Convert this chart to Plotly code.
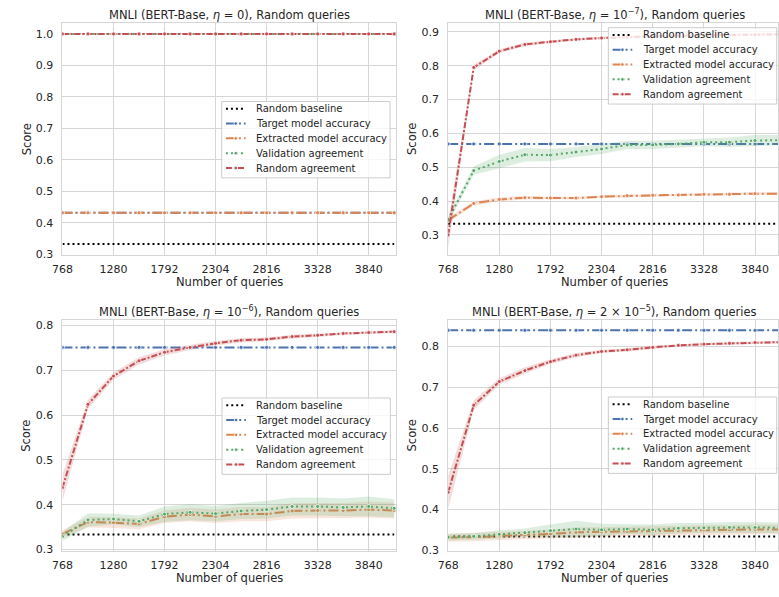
import plotly.graph_objects as go

W, H = 779, 597

# ---------------- data ----------------
QUERIES = [768, 1024, 1280, 1536, 1792, 2048, 2304, 2560, 2816, 3072, 3328, 3584, 3840, 4096]
XTICKS = [768, 1280, 1792, 2304, 2816, 3328, 3840]

SERIES_NAMES = ["Random baseline", "Target model accuracy", "Extracted model accuracy",
                "Validation agreement", "Random agreement"]
COLORS = ["#000000", "#4C72B0", "#DD8452", "#55A868", "#C44E52"]
BAND_COLORS = ["rgba(0,0,0,0.2)", "rgba(76,114,176,0.2)", "rgba(221,132,82,0.2)",
               "rgba(85,168,104,0.2)", "rgba(196,78,82,0.2)"]
DASHES = ["2px,3px", "10px,3px,2px,3px", "10px,3px,2px,3px", "2px,3px", "6px,2px,2px,2px"]

TITLES = [
    "MNLI (BERT-Base, <i>η</i> = 0), Random queries",
    "MNLI (BERT-Base, <i>η</i> = 10<sup>−7</sup>), Random queries",
    "MNLI (BERT-Base, <i>η</i> = 10<sup>−6</sup>), Random queries",
    "MNLI (BERT-Base, <i>η</i> = 2 × 10<sup>−5</sup>), Random queries",
]

RANDOM_BASELINE = 0.3333

# Panel 1: eta = 0
P1_TARGET = 0.432
P1_EXTRACTED = [0.432, 0.432, 0.432, 0.432, 0.432, 0.432, 0.432, 0.432, 0.432, 0.432, 0.432, 0.432, 0.432, 0.432]
P1_VALIDATION = [1.0, 1.0, 1.0, 1.0, 1.0, 1.0, 1.0, 1.0, 1.0, 1.0, 1.0, 1.0, 1.0, 1.0]
P1_RANDOM = [1.0, 1.0, 1.0, 1.0, 1.0, 1.0, 1.0, 1.0, 1.0, 1.0, 1.0, 1.0, 1.0, 1.0]
P1_EXTRACTED_ERR = [0, 0, 0, 0, 0, 0, 0, 0, 0, 0, 0, 0, 0, 0]
P1_VALIDATION_ERR = [0, 0, 0, 0, 0, 0, 0, 0, 0, 0, 0, 0, 0, 0]
P1_RANDOM_ERR = [0, 0, 0, 0, 0, 0, 0, 0, 0, 0, 0, 0, 0, 0]

# Panel 2: eta = 1e-7
P2_TARGET = 0.569
P2_EXTRACTED = [0.344, 0.393, 0.405, 0.410, 0.409, 0.409, 0.413, 0.416, 0.417, 0.418, 0.420, 0.420, 0.422, 0.422]
P2_VALIDATION = [0.345, 0.490, 0.517, 0.537, 0.536, 0.545, 0.554, 0.566, 0.566, 0.569, 0.574, 0.574, 0.579, 0.580]
P2_RANDOM = [0.300, 0.795, 0.843, 0.863, 0.871, 0.878, 0.882, 0.885, 0.887, 0.889, 0.890, 0.891, 0.892, 0.893]
P2_EXTRACTED_ERR = [0.008, 0.006, 0.006, 0.005, 0.004, 0.004, 0.004, 0.004, 0.004, 0.004, 0.004, 0.004, 0.004, 0.005]
P2_VALIDATION_ERR = [0.010, 0.012, 0.020, 0.020, 0.018, 0.015, 0.015, 0.012, 0.012, 0.012, 0.012, 0.014, 0.016, 0.015]
P2_RANDOM_ERR = [0.040, 0.008, 0.006, 0.005, 0.004, 0.004, 0.004, 0.004, 0.004, 0.004, 0.004, 0.004, 0.004, 0.004]

# Panel 3: eta = 1e-6
P3_TARGET = 0.751
P3_EXTRACTED = [0.335, 0.361, 0.360, 0.357, 0.373, 0.378, 0.374, 0.379, 0.379, 0.386, 0.387, 0.387, 0.389, 0.387]
P3_VALIDATION = [0.329, 0.366, 0.368, 0.363, 0.379, 0.383, 0.380, 0.386, 0.389, 0.396, 0.396, 0.394, 0.396, 0.392]
P3_RANDOM = [0.438, 0.624, 0.687, 0.721, 0.740, 0.751, 0.760, 0.767, 0.769, 0.775, 0.778, 0.782, 0.784, 0.786]
P3_EXTRACTED_ERR = [0.008, 0.012, 0.012, 0.012, 0.014, 0.015, 0.015, 0.016, 0.016, 0.017, 0.017, 0.017, 0.018, 0.018]
P3_VALIDATION_ERR = [0.010, 0.015, 0.012, 0.013, 0.017, 0.018, 0.017, 0.018, 0.020, 0.020, 0.020, 0.020, 0.022, 0.020]
P3_RANDOM_ERR = [0.030, 0.010, 0.008, 0.008, 0.007, 0.006, 0.005, 0.005, 0.004, 0.004, 0.004, 0.003, 0.003, 0.003]

# Panel 4: eta = 2e-5
P4_TARGET = 0.840
P4_EXTRACTED = [0.331, 0.332, 0.335, 0.337, 0.340, 0.344, 0.345, 0.346, 0.347, 0.348, 0.350, 0.350, 0.351, 0.351]
P4_VALIDATION = [0.332, 0.334, 0.339, 0.343, 0.348, 0.352, 0.350, 0.352, 0.350, 0.354, 0.355, 0.356, 0.356, 0.355]
P4_RANDOM = [0.442, 0.656, 0.714, 0.741, 0.763, 0.779, 0.788, 0.792, 0.798, 0.803, 0.806, 0.808, 0.810, 0.811]
P4_EXTRACTED_ERR = [0.010, 0.010, 0.010, 0.010, 0.010, 0.012, 0.012, 0.012, 0.012, 0.012, 0.012, 0.012, 0.012, 0.012]
P4_VALIDATION_ERR = [0.008, 0.008, 0.010, 0.010, 0.015, 0.020, 0.015, 0.012, 0.013, 0.013, 0.012, 0.013, 0.013, 0.013]
P4_RANDOM_ERR = [0.040, 0.012, 0.008, 0.008, 0.006, 0.005, 0.004, 0.004, 0.004, 0.003, 0.003, 0.003, 0.003, 0.003]

Y_RANGES = [[0.299, 1.0345], [0.2416, 0.9263], [0.2963, 0.8132], [0.2976, 0.8665]]
X_RANGES = [[768, 4111], [768, 4070], [768, 4111], [768, 4070]]

PANELS = [
    (P1_TARGET, P1_EXTRACTED, P1_VALIDATION, P1_RANDOM, P1_EXTRACTED_ERR, P1_VALIDATION_ERR, P1_RANDOM_ERR),
    (P2_TARGET, P2_EXTRACTED, P2_VALIDATION, P2_RANDOM, P2_EXTRACTED_ERR, P2_VALIDATION_ERR, P2_RANDOM_ERR),
    (P3_TARGET, P3_EXTRACTED, P3_VALIDATION, P3_RANDOM, P3_EXTRACTED_ERR, P3_VALIDATION_ERR, P3_RANDOM_ERR),
    (P4_TARGET, P4_EXTRACTED, P4_VALIDATION, P4_RANDOM, P4_EXTRACTED_ERR, P4_VALIDATION_ERR, P4_RANDOM_ERR),
]

# ---------------- layout geometry (pixels) ----------------
COL_X = [(52.3, 390.7), (444.0, 779.0)]
ROW_Y = [(23.3, 257.7), (323.3, 557.7)]
PLOT_CENTER_X = [221.5, 613.2]
LEGEND_BOX = [(214.0, 102.7), (606.7, 28.0), (214.3, 402.7), (606.7, 401.7)]
LEGEND_W, LEGEND_H = 171.0, 77.3


def px(x):
    return x / W


def py(y):
    return 1 - y / H


TEXT_COLOR = "#262626"
GRID = "#d6d6d6"
FONT = "DejaVu Sans"

fig = go.Figure()
shapes = []
annotations = []

for i, (target, extr, val, rnd, extr_e, val_e, rnd_e) in enumerate(PANELS):
    r, c = divmod(i, 2)
    xa = "x" if i == 0 else f"x{i + 1}"
    ya = "y" if i == 0 else f"y{i + 1}"
    n = len(QUERIES)
    series = [
        ([RANDOM_BASELINE] * n, None, False),
        ([target] * n, None, True),
        (extr, extr_e, True),
        (val, val_e, True),
        (rnd, rnd_e, True),
    ]
    for k, (vals, err, mk) in enumerate(series):
        if err is not None and any(e > 0 for e in err):
            lo = [v - e for v, e in zip(vals, err)]
            hi = [v + e for v, e in zip(vals, err)]
            fig.add_trace(go.Scatter(x=QUERIES, y=lo, xaxis=xa, yaxis=ya, mode="lines",
                                     line=dict(width=0), showlegend=False, hoverinfo="skip"))
            fig.add_trace(go.Scatter(x=QUERIES, y=hi, xaxis=xa, yaxis=ya, mode="lines",
                                     line=dict(width=0), fill="tonexty",
                                     fillcolor=BAND_COLORS[k], showlegend=False, hoverinfo="skip"))
        fig.add_trace(go.Scatter(
            x=QUERIES, y=vals, xaxis=xa, yaxis=ya, name=SERIES_NAMES[k],
            mode="lines+markers" if mk else "lines",
            line=dict(color=COLORS[k], width=2, dash=DASHES[k]),
            marker=dict(size=4, color=COLORS[k], line=dict(color="white", width=0.8)),
            showlegend=False,
        ))

    x0, x1 = COL_X[c]
    y0, y1 = ROW_Y[r]
    axis_common = dict(showgrid=True, gridcolor=GRID, gridwidth=1, showline=True,
                       linecolor=GRID, linewidth=1, mirror=True, ticks="",
                       zeroline=False, tickfont=dict(family=FONT, size=11, color=TEXT_COLOR))
    fig.update_layout(**{
        ("xaxis" if i == 0 else f"xaxis{i + 1}"): dict(
            domain=[px(x0), px(x1)], anchor=ya, range=X_RANGES[i],
            tickmode="array", tickvals=XTICKS, ticklabelstandoff=4, **axis_common),
        ("yaxis" if i == 0 else f"yaxis{i + 1}"): dict(
            domain=[py(y1), py(y0)], anchor=xa, range=Y_RANGES[i],
            dtick=0.1, tickformat=".1f", ticklabelstandoff=6, **axis_common),
    })

    cx = PLOT_CENTER_X[c]
    # title
    annotations.append(dict(text=TITLES[i], x=px(cx), y=py(y0 - 8.5), xref="paper", yref="paper",
                            xanchor="center", yanchor="middle", showarrow=False,
                            font=dict(family=FONT, size=11.5, color=TEXT_COLOR)))
    # x title
    annotations.append(dict(text="Number of queries", x=px(cx), y=py(y1 + 27.5), xref="paper", yref="paper",
                            xanchor="center", yanchor="middle", showarrow=False,
                            font=dict(family=FONT, size=11.5, color=TEXT_COLOR)))
    # y title
    annotations.append(dict(text="Score", x=px(x0 - 36.6), y=py((y0 + y1) / 2), xref="paper", yref="paper",
                            xanchor="center", yanchor="middle", showarrow=False, textangle=-90,
                            font=dict(family=FONT, size=11.5, color=TEXT_COLOR)))

    # legend box
    bx, by = LEGEND_BOX[i]
    shapes.append(dict(type="rect", xref="paper", yref="paper", layer="above",
                       x0=px(bx), x1=px(bx + LEGEND_W), y0=py(by), y1=py(by + LEGEND_H),
                       fillcolor="rgba(255,255,255,0.8)", line=dict(color="#cccccc", width=1)))
    for k, name in enumerate(SERIES_NAMES):
        ey = by + 7.3 + 15 * k
        shapes.append(dict(type="line", xref="paper", yref="paper", layer="above",
                           x0=px(bx + 4.3), x1=px(bx + 24.3), y0=py(ey), y1=py(ey),
                           line=dict(color=COLORS[k], width=2, dash=DASHES[k])))
        if k > 0:
            mx = bx + 14.3
            shapes.append(dict(type="circle", xref="paper", yref="paper", layer="above",
                               x0=px(mx - 1.8), x1=px(mx + 1.8), y0=py(ey + 1.8), y1=py(ey - 1.8),
                               fillcolor=COLORS[k], line=dict(color="white", width=0.8)))
        annotations.append(dict(text=name, x=px(bx + 33), y=py(ey), xref="paper", yref="paper",
                                xanchor="left", yanchor="middle", showarrow=False,
                                font=dict(family=FONT, size=10, color=TEXT_COLOR)))

fig.update_layout(
    width=W, height=H,
    margin=dict(l=0, r=0, t=0, b=0),
    paper_bgcolor="white", plot_bgcolor="white",
    showlegend=False,
    shapes=shapes, annotations=annotations,
    font=dict(family=FONT, color=TEXT_COLOR),
)

fig.write_html("out.html")
